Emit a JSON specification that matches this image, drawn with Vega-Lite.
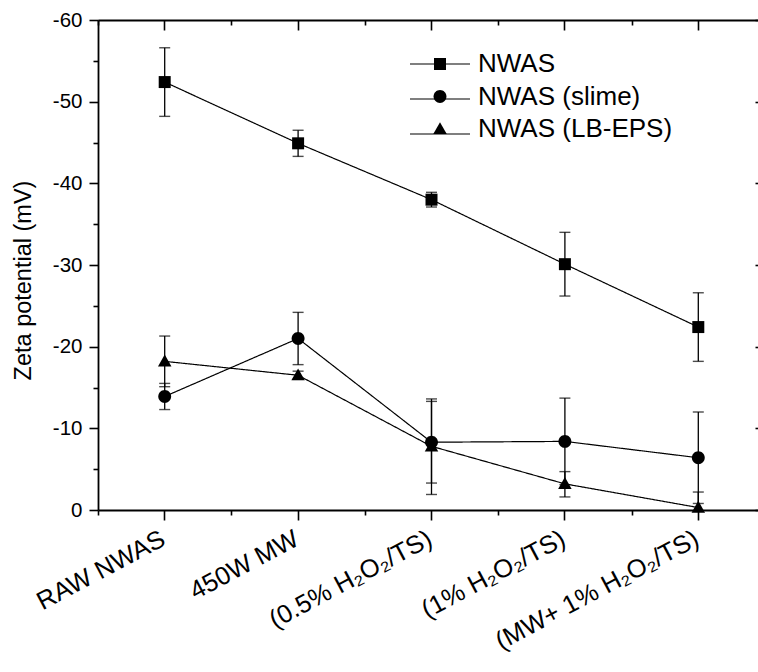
{
  "$schema": "https://vega.github.io/schema/vega-lite/v6.json",
  "width": 660,
  "height": 490,
  "autosize": "none",
  "padding": {"left": 98, "top": 20, "right": 0, "bottom": 162},
  "background": "white",
  "config": {
    "view": {"stroke": null},
    "font": "Liberation Sans",
    "axis": {
      "domainColor": "black",
      "domainWidth": 1.8,
      "tickColor": "black",
      "tickWidth": 1.6,
      "labelColor": "black",
      "labelFont": "Liberation Sans",
      "titleFont": "Liberation Sans",
      "titleColor": "black",
      "titleFontWeight": "normal",
      "grid": false
    }
  },
  "data": {
    "values": [
      {"cat": "RAW NWAS", "series": "NWAS", "v": -52.4, "lo": -56.6, "hi": -48.2},
      {"cat": "450W MW", "series": "NWAS", "v": -44.9, "lo": -46.5, "hi": -43.3},
      {"cat": "(0.5% H₂O₂/TS)", "series": "NWAS", "v": -38.0, "lo": -38.9, "hi": -37.1},
      {"cat": "(1% H₂O₂/TS)", "series": "NWAS", "v": -30.1, "lo": -34.0, "hi": -26.2},
      {"cat": "(MW+ 1% H₂O₂/TS)", "series": "NWAS", "v": -22.4, "lo": -26.6, "hi": -18.2},
      {"cat": "RAW NWAS", "series": "NWAS (slime)", "v": -13.9, "lo": -15.5, "hi": -12.3},
      {"cat": "450W MW", "series": "NWAS (slime)", "v": -21.0, "lo": -24.2, "hi": -17.8},
      {"cat": "(0.5% H₂O₂/TS)", "series": "NWAS (slime)", "v": -8.3, "lo": -13.3, "hi": -3.3},
      {"cat": "(1% H₂O₂/TS)", "series": "NWAS (slime)", "v": -8.4, "lo": -13.7, "hi": -3.1},
      {"cat": "(MW+ 1% H₂O₂/TS)", "series": "NWAS (slime)", "v": -6.4, "lo": -12.0, "hi": -0.8},
      {"cat": "RAW NWAS", "series": "NWAS (LB-EPS)", "v": -18.2, "lo": -21.3, "hi": -15.1},
      {"cat": "450W MW", "series": "NWAS (LB-EPS)", "v": -16.5, "lo": -17.0, "hi": -16.0},
      {"cat": "(0.5% H₂O₂/TS)", "series": "NWAS (LB-EPS)", "v": -7.8, "lo": -13.6, "hi": -1.9},
      {"cat": "(1% H₂O₂/TS)", "series": "NWAS (LB-EPS)", "v": -3.2, "lo": -4.7, "hi": -1.6},
      {"cat": "(MW+ 1% H₂O₂/TS)", "series": "NWAS (LB-EPS)", "v": -0.3, "lo": -2.2, "hi": 1.6}
    ]
  },
  "resolve": {"axis": {"x": "independent", "y": "independent"}},
  "layer": [
    {
      "mark": {"type": "line", "color": "black", "strokeWidth": 1.2},
      "encoding": {
        "x": {
          "field": "cat", "type": "nominal",
          "sort": ["RAW NWAS", "450W MW", "(0.5% H₂O₂/TS)", "(1% H₂O₂/TS)", "(MW+ 1% H₂O₂/TS)"],
          "scale": {"type": "band", "paddingInner": 0, "paddingOuter": 0, "range": [0, 667]},
          "axis": {"orient": "bottom", "title": null, "tickSize": 10, "labelAngle": -28, "labelAlign": "right", "labelBaseline": "top", "labelPadding": 6, "labelOffset": -7, "labelFontSize": 25.5, "labelLimit": 0}
        },
        "y": {
          "field": "v", "type": "quantitative",
          "scale": {"domain": [-60, 0], "reverse": true, "nice": false, "zero": false},
          "axis": {"orient": "left", "values": [-60, -50, -40, -30, -20, -10, 0], "labelExpr": "toString(datum.value)", "tickSize": 9, "labelFontSize": 20.5, "labelPadding": 7, "title": "Zeta potential (mV)", "titleFontSize": 23.5, "titleX": -75, "titleY": 260, "titleBaseline": "middle", "titleAlign": "center"}
        },
        "strokeDash": {
          "field": "series", "type": "nominal",
          "scale": {"range": [[1, 0], [1, 0], [1, 0]]},
          "legend": {
            "orient": "none", "legendX": 326, "legendY": 13, "title": null,
            "labelFontSize": 2, "labelFont": "Liberation Sans", "labelOpacity": 0,
            "labelExpr": "''",
            "labelOffset": 0, "symbolSize": 3600, "rowPadding": 1, "padding": 0,
            "symbolOffset": -15, "labelLimit": 0, "symbolType": "stroke",
            "symbolStrokeColor": "black", "symbolStrokeWidth": 1.2, "symbolOpacity": 1
          }
        }
      }
    },
    {
      "mark": {"type": "rule", "color": "black", "strokeWidth": 1.3, "clip": true},
      "encoding": {
        "x": {
          "field": "cat", "type": "nominal",
          "sort": ["RAW NWAS", "450W MW", "(0.5% H₂O₂/TS)", "(1% H₂O₂/TS)", "(MW+ 1% H₂O₂/TS)"],
          "axis": {"orient": "bottom", "title": null, "tickBand": "extent", "tickSize": 5, "labels": false, "domain": false}
        },
        "y": {
          "field": "lo", "type": "quantitative",
          "axis": {"orient": "left", "values": [-55, -45, -35, -25, -15, -5], "tickSize": 5, "labels": false, "domain": false, "title": null}
        },
        "y2": {"field": "hi"}
      }
    },
    {
      "mark": {"type": "tick", "color": "black", "size": 11, "thickness": 1.4, "clip": true},
      "encoding": {
        "x": {
          "field": "cat", "type": "nominal",
          "sort": ["RAW NWAS", "450W MW", "(0.5% H₂O₂/TS)", "(1% H₂O₂/TS)", "(MW+ 1% H₂O₂/TS)"],
          "axis": {"orient": "top", "title": null, "tickSize": -10, "labels": false, "domain": true}
        },
        "y": {
          "field": "lo", "type": "quantitative",
          "axis": {"orient": "right", "offset": 7, "values": [-60, -50, -40, -30, -20, -10, 0], "tickSize": -10, "labels": false, "domain": false, "title": null}
        }
      }
    },
    {
      "mark": {"type": "tick", "color": "black", "size": 11, "thickness": 1.4, "clip": true},
      "encoding": {
        "x": {
          "field": "cat", "type": "nominal",
          "sort": ["RAW NWAS", "450W MW", "(0.5% H₂O₂/TS)", "(1% H₂O₂/TS)", "(MW+ 1% H₂O₂/TS)"],
          "axis": {"orient": "top", "title": null, "tickBand": "extent", "tickSize": -5, "labels": false, "domain": false}
        },
        "y": {
          "field": "hi", "type": "quantitative",
          "axis": {"orient": "right", "offset": 7, "values": [-55, -45, -35, -25, -15, -5], "tickSize": -5, "labels": false, "domain": false, "title": null}
        }
      }
    },
    {
      "mark": {"type": "point", "filled": true, "color": "black", "size": 900, "opacity": 1},
      "encoding": {
        "x": {
          "field": "cat", "type": "nominal",
          "sort": ["RAW NWAS", "450W MW", "(0.5% H₂O₂/TS)", "(1% H₂O₂/TS)", "(MW+ 1% H₂O₂/TS)"],
          "axis": null
        },
        "y": {"field": "v", "type": "quantitative", "axis": null},
        "shape": {
          "field": "series", "type": "nominal",
          "scale": {
            "domain": ["NWAS", "NWAS (slime)", "NWAS (LB-EPS)"],
            "range": [
              "M-0.4,-0.4H0.4V0.4H-0.4Z",
              "M-0.43,0A0.43,0.43,0,1,1,0.43,0A0.43,0.43,0,1,1,-0.43,0Z",
              "M0,-0.45L0.45,0.34L-0.45,0.34Z"
            ]
          },
          "legend": {
            "orient": "none", "legendX": 326, "legendY": 28, "title": null,
            "labelFontSize": 26, "labelFont": "Liberation Sans", "labelColor": "black",
            "labelOffset": 22, "symbolSize": 900, "rowPadding": 3.5, "padding": 0,
            "symbolOffset": 0, "labelLimit": 0,
            "symbolFillColor": "black", "symbolOpacity": 1
          }
        }
      }
    }
  ]
}
